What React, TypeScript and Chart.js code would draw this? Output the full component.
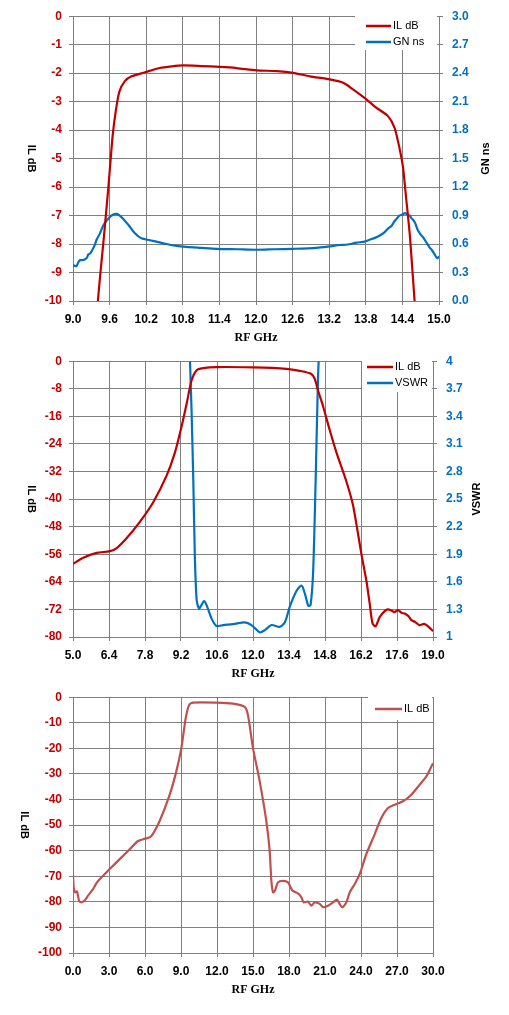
import { useEffect, useRef } from 'react';
import { Chart, registerables } from 'chart.js';
Chart.register(...registerables);

// ---- chart 1: passband IL and group delay (GN ns) ----
const passFreq = [9.36, 9.4, 9.45, 9.5, 9.58, 9.65, 9.7, 9.76, 9.85, 9.96, 10.18, 10.42, 10.62, 10.81, 11.1, 11.41, 11.68, 12.01, 12.34, 12.61, 12.88, 13.21, 13.43, 13.59, 13.81, 13.97, 14.16, 14.27, 14.35, 14.41, 14.46, 14.52, 14.56, 14.6, 14.64];
const passIl = [-11.5, -10.2, -9.0, -7.9, -6.0, -4.2, -3.35, -2.65, -2.28, -2.11, -1.97, -1.82, -1.76, -1.73, -1.75, -1.78, -1.82, -1.9, -1.93, -1.99, -2.11, -2.22, -2.34, -2.57, -2.92, -3.21, -3.5, -3.91, -4.61, -5.31, -6.36, -7.64, -8.8, -10.0, -11.2];
const gnFreq = [9.0, 9.03, 9.06, 9.09, 9.11, 9.15, 9.2, 9.23, 9.25, 9.28, 9.31, 9.35, 9.39, 9.44, 9.5, 9.58, 9.66, 9.73, 9.8, 9.91, 10.02, 10.12, 10.26, 10.4, 10.53, 10.7, 10.86, 11.1, 11.35, 11.7, 12.01, 12.3, 12.61, 12.99, 13.2, 13.37, 13.5, 13.65, 13.78, 13.86, 13.95, 14.03, 14.1, 14.16, 14.22, 14.27, 14.31, 14.35, 14.4, 14.44, 14.48, 14.52, 14.55, 14.57, 14.61, 14.65, 14.7, 14.74, 14.8, 14.85, 14.88, 14.93, 14.97, 15.0];
const gnNs = [0.38, 0.37, 0.37, 0.41, 0.43, 0.43, 0.44, 0.46, 0.49, 0.5, 0.53, 0.58, 0.65, 0.71, 0.8, 0.87, 0.91, 0.915, 0.88, 0.8, 0.71, 0.66, 0.64, 0.62, 0.6, 0.58, 0.57, 0.56, 0.55, 0.545, 0.54, 0.545, 0.55, 0.56, 0.575, 0.59, 0.595, 0.615, 0.625, 0.645, 0.665, 0.69, 0.72, 0.76, 0.79, 0.84, 0.87, 0.9, 0.91, 0.925, 0.915, 0.9, 0.87, 0.86, 0.82, 0.75, 0.7, 0.67, 0.61, 0.56, 0.54, 0.49, 0.45, 0.47];

// ---- chart 2: 5-19 GHz IL and VSWR ----
const wideFreq = [5.0, 5.4, 5.92, 6.44, 6.7, 7.09, 7.6, 8.12, 8.64, 8.96, 9.22, 9.42, 9.61, 9.81, 10.06, 10.58, 12.0, 13.3, 13.82, 14.27, 14.4, 14.53, 14.73, 14.98, 15.25, 15.64, 15.89, 16.22, 16.41, 16.54, 16.65, 16.77, 16.93, 17.12, 17.25, 17.38, 17.5, 17.64, 17.78, 17.9, 18.05, 18.16, 18.3, 18.48, 18.65, 18.81, 19.0];
const wideIl = [-58.8, -57.0, -55.6, -55.1, -54.2, -51.3, -46.6, -40.9, -33.2, -26.6, -19.0, -12.3, -5.6, -2.6, -2.0, -1.7, -1.8, -2.2, -2.8, -3.7, -5.1, -8.5, -13.2, -19.9, -26.6, -35.1, -41.8, -56.1, -63.7, -70.4, -76.1, -76.9, -74.2, -72.5, -72.0, -72.3, -72.8, -72.2, -73.0, -73.2, -74.0, -75.1, -75.6, -76.6, -76.2, -76.9, -78.3];
const vswrFreq = [9.5, 9.55, 9.61, 9.68, 9.74, 9.81, 9.9, 10.0, 10.09, 10.19, 10.39, 10.58, 10.84, 11.23, 11.68, 11.94, 12.27, 12.46, 12.72, 13.04, 13.24, 13.43, 13.69, 13.89, 14.02, 14.15, 14.24, 14.34, 14.44, 14.53, 14.6];
const vswr = [4.6, 4.0, 3.47, 2.68, 1.86, 1.4, 1.31, 1.35, 1.39, 1.35, 1.2, 1.12, 1.13, 1.14, 1.16, 1.13, 1.05, 1.075, 1.13, 1.11, 1.16, 1.33, 1.5, 1.56, 1.47, 1.34, 1.35, 1.72, 2.75, 3.83, 4.3];

// ---- chart 3: 0-30 GHz IL ----
const fullFreq = [0, 0.06, 0.17, 0.33, 0.5, 0.69, 0.97, 1.25, 1.67, 2.0, 2.36, 3.06, 3.89, 4.72, 5.42, 6.11, 6.53, 7.22, 8.06, 8.61, 9.03, 9.39, 9.67, 10.0, 11.94, 13.33, 14.31, 14.58, 15.0, 15.56, 16.11, 16.39, 16.53, 16.67, 16.83, 17.08, 17.5, 17.92, 18.28, 18.75, 19.03, 19.22, 19.58, 19.86, 20.14, 20.56, 20.83, 21.25, 21.67, 22.0, 22.22, 22.44, 22.78, 23.06, 23.47, 23.89, 24.44, 25.14, 25.69, 26.25, 26.81, 27.5, 28.19, 28.89, 29.44, 30.0];
const fullIl = [-69.2, -74.4, -76.3, -75.9, -79.5, -80.2, -79.5, -77.6, -75.0, -72.4, -70.5, -67.2, -63.3, -59.5, -56.2, -55.2, -54.3, -48.4, -38.1, -29.0, -19.9, -8.3, -3.1, -2.1, -2.1, -2.5, -3.8, -7.0, -19.9, -32.9, -48.4, -60.1, -71.8, -76.3, -75.6, -72.4, -71.8, -72.4, -75.6, -76.7, -78.2, -80.2, -79.9, -81.5, -80.2, -80.8, -82.1, -81.5, -80.2, -79.1, -80.8, -82.1, -80.2, -76.3, -73.1, -69.2, -61.4, -53.6, -47.2, -43.3, -42.0, -40.7, -38.1, -34.2, -31.0, -25.8];

const SANS = '"Liberation Sans", Arial, sans-serif';
const SERIF = '"Liberation Serif", "Times New Roman", serif';
const RED = '#c00000';
const BLUE = '#0070c0';
const SOFT_RED = '#c0504d';
const GRID = '#7f7f7f';
const W = 509;

const pts = (xs: number[], ys: number[]) => xs.map((x, i) => ({ x, y: ys[i] }));
const tickFont = { family: SANS, size: 12, weight: 'bold' as const };

function xAxis(min: number, max: number, step: number, h: number) {
  return {
    type: 'linear' as const,
    position: 'bottom' as const,
    min, max,
    ticks: { stepSize: step, color: '#000', font: tickFont, padding: 7, maxRotation: 0, autoSkip: false, callback: (v: any) => Number(v).toFixed(1) },
    grid: { color: GRID, tickColor: GRID, tickLength: 4 },
    border: { color: GRID },
    afterFit: (s: any) => { s.height = h; },
  };
}

function yAxis(side: 'left' | 'right', min: number, max: number, step: number, w: number, color: string, fmt: (v: number) => string) {
  return {
    type: 'linear' as const,
    position: side,
    min, max,
    ticks: { stepSize: step, color, font: tickFont, padding: side === 'left' ? 7 : 9, callback: (v: any) => fmt(Number(v)) },
    grid: { color: GRID, tickColor: GRID, tickLength: 4, drawOnChartArea: side === 'left' },
    border: { color: GRID },
    afterFit: (s: any) => { s.width = w; },
  };
}

interface Frame {
  xTitleY: number;
  leftX: number;
  rightX?: number;
  rightTitle?: string;
  box: [number, number, number, number];
  items: { label: string; color: string; y: number }[];
  lineX: [number, number];
}

// excel-style titles (left one reads downwards, right one upwards) and legend inside the plot
function framePlugin(f: Frame) {
  return {
    id: 'frame',
    afterDraw(chart: Chart) {
      const { ctx, chartArea } = chart;
      ctx.save();
      const [bx, by, bw, bh] = f.box;
      ctx.fillStyle = '#fff';
      ctx.fillRect(bx, by, bw, bh);
      f.items.forEach(it => {
        ctx.strokeStyle = it.color;
        ctx.lineWidth = 2.5;
        ctx.beginPath();
        ctx.moveTo(f.lineX[0], it.y);
        ctx.lineTo(f.lineX[1], it.y);
        ctx.stroke();
        ctx.fillStyle = '#000';
        ctx.font = `11px ${SANS}`;
        ctx.textAlign = 'left';
        ctx.textBaseline = 'middle';
        ctx.fillText(it.label, f.lineX[1] + 2, it.y);
      });

      ctx.fillStyle = '#000';
      ctx.textAlign = 'center';
      ctx.textBaseline = 'middle';
      ctx.font = `bold 12px ${SERIF}`;
      ctx.fillText('RF GHz', (chartArea.left + chartArea.right) / 2, f.xTitleY);

      const midY = (chartArea.top + chartArea.bottom) / 2;
      ctx.font = `bold 11px ${SANS}`;
      ctx.save();
      ctx.translate(f.leftX, midY);
      ctx.rotate(Math.PI / 2);
      ctx.fillText('IL dB', 0, 0);
      ctx.restore();
      if (f.rightTitle && f.rightX) {
        ctx.save();
        ctx.translate(f.rightX, midY);
        ctx.rotate(-Math.PI / 2);
        ctx.fillText(f.rightTitle, 0, 0);
        ctx.restore();
      }
      ctx.restore();
    },
  };
}

const intLabel = (v: number) => String(Math.round(v));

function passConfig(): any {
  return {
    type: 'line',
    data: {
      datasets: [
        { label: 'IL dB', data: pts(passFreq, passIl), borderColor: RED, borderWidth: 2.2, pointRadius: 0, tension: 0.25, yAxisID: 'y' },
        { label: 'GN ns', data: pts(gnFreq, gnNs), borderColor: BLUE, borderWidth: 2.2, pointRadius: 0, tension: 0.25, yAxisID: 'y1' },
      ],
    },
    options: {
      responsive: false,
      animation: false,
      layout: { padding: { top: 15, left: 0, right: 0, bottom: 0 } },
      plugins: { legend: { display: false }, tooltip: { enabled: false } },
      scales: {
        x: xAxis(9, 15, 0.6, 44),
        y: yAxis('left', -10, 0, 1, 73, RED, intLabel),
        y1: yAxis('right', 0, 3, 0.3, 70, BLUE, v => v.toFixed(1)),
      },
    },
    plugins: [framePlugin({
      xTitleY: 338, leftX: 31, rightX: 486, rightTitle: 'GN ns',
      box: [355, 16, 82, 34], lineX: [366, 391],
      items: [{ label: 'IL dB', color: RED, y: 26 }, { label: 'GN ns', color: BLUE, y: 42 }],
    })],
  };
}

function wideConfig(): any {
  return {
    type: 'line',
    data: {
      datasets: [
        { label: 'IL dB', data: pts(wideFreq, wideIl), borderColor: RED, borderWidth: 2.2, pointRadius: 0, tension: 0.25, yAxisID: 'y' },
        { label: 'VSWR', data: pts(vswrFreq, vswr), borderColor: BLUE, borderWidth: 2.2, pointRadius: 0, tension: 0.25, yAxisID: 'y1' },
      ],
    },
    options: {
      responsive: false,
      animation: false,
      layout: { padding: { top: 12, left: 0, right: 0, bottom: 0 } },
      plugins: { legend: { display: false }, tooltip: { enabled: false } },
      scales: {
        x: xAxis(5, 19, 1.4, 46),
        y: yAxis('left', -80, 0, 8, 73, RED, intLabel),
        y1: yAxis('right', 1, 4, 0.3, 76, BLUE, v => String(Number(v.toFixed(1)))),
      },
    },
    plugins: [framePlugin({
      xTitleY: 329, leftX: 31, rightX: 477, rightTitle: 'VSWR',
      box: [362, 12, 70, 35], lineX: [367, 393],
      items: [{ label: 'IL dB', color: RED, y: 22 }, { label: 'VSWR', color: BLUE, y: 38 }],
    })],
  };
}

function fullConfig(): any {
  return {
    type: 'line',
    data: {
      datasets: [
        { label: 'IL dB', data: pts(fullFreq, fullIl), borderColor: SOFT_RED, borderWidth: 2.2, pointRadius: 0, tension: 0.25 },
      ],
    },
    options: {
      responsive: false,
      animation: false,
      layout: { padding: { top: 12, left: 0, right: 76, bottom: 0 } },
      plugins: { legend: { display: false }, tooltip: { enabled: false } },
      scales: {
        x: xAxis(0, 30, 3, 62),
        y: yAxis('left', -100, 0, 10, 73, RED, intLabel),
      },
    },
    plugins: [framePlugin({
      xTitleY: 307, leftX: 24,
      box: [368, 14, 64, 23], lineX: [375, 402],
      items: [{ label: 'IL dB', color: SOFT_RED, y: 26 }],
    })],
  };
}

function Plot({ top, height, build }: { top: number; height: number; build: () => any }) {
  const canvasRef = useRef<HTMLCanvasElement>(null);
  useEffect(() => {
    if (!canvasRef.current) return;
    const chart = new Chart(canvasRef.current, build());
    return () => { chart.destroy(); };
  }, [build]);
  return (
    <canvas ref={canvasRef} width={W} height={height}
      style={{ position: 'absolute', left: 0, top, width: W, height, display: 'block' }} />
  );
}

export default function App() {
  return (
    <div style={{ position: 'absolute', left: 0, top: 0, width: W, height: 1015, background: '#fff' }}>
      <Plot top={0} height={345} build={passConfig} />
      <Plot top={345} height={338} build={wideConfig} />
      <Plot top={683} height={332} build={fullConfig} />
    </div>
  );
}
